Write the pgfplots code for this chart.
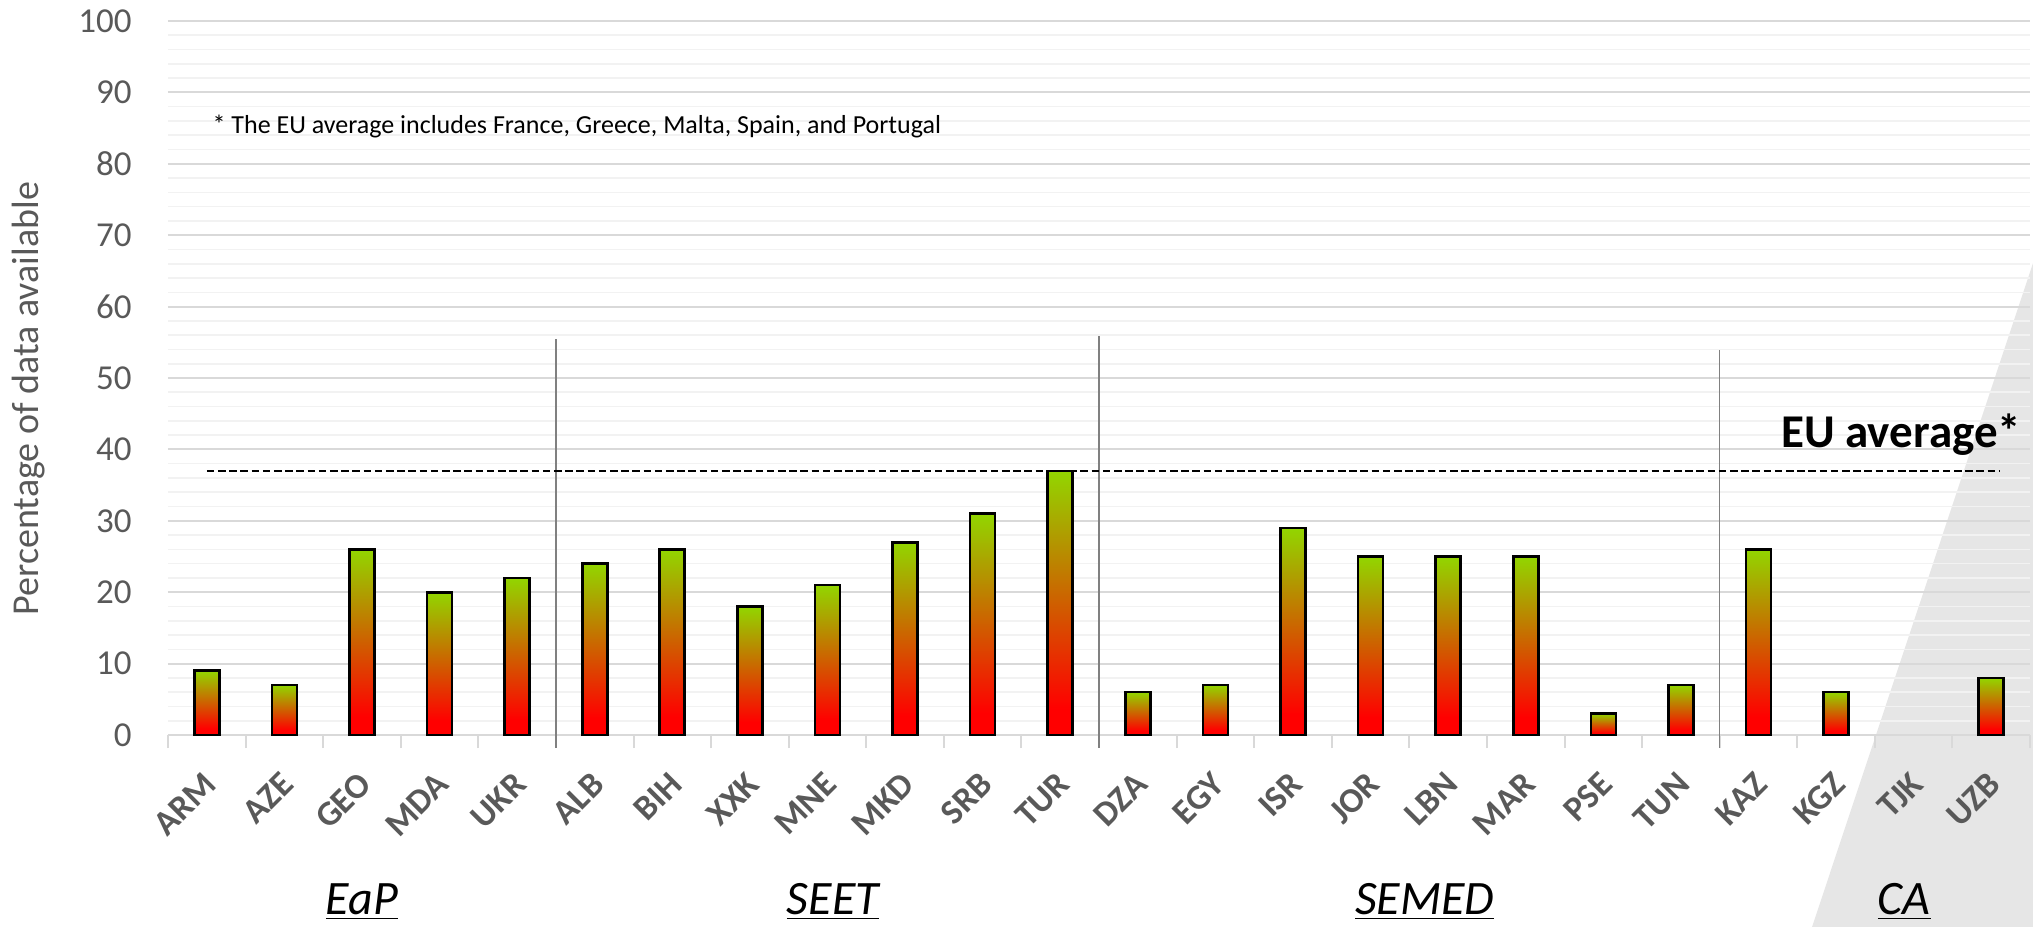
\documentclass[border=0pt]{standalone}
\usepackage{pgfplots}
\pgfplotsset{compat=1.18}
\usepackage{fontspec}
\setmainfont{Carlito}
\definecolor{txtgray}{HTML}{595959}
\definecolor{gridmaj}{HTML}{D9D9D9}
\definecolor{gridmin}{HTML}{F2F2F2}
\definecolor{bargreen}{RGB}{146,214,0}
\definecolor{barred}{RGB}{255,0,0}
\definecolor{caGray}{RGB}{230,230,230}
\definecolor{sepgray}{HTML}{808080}
% green at the top, pure red only near the foot of each bar
\pgfdeclareverticalshading{barshade}{100bp}{color(0bp)=(barred); color(30bp)=(barred); color(75bp)=(bargreen); color(100bp)=(bargreen)}
\pgfplotsset{availbar/.style={ybar, bar width=12.5pt, bar shift=0pt, draw=black, line width=1.3pt, shading=barshade}}

\begin{document}
\begin{tikzpicture}
\useasboundingbox (-84pt,-95.5pt) rectangle (932.5pt,367.5pt);
% shaded CA corner
\fill[caGray] (822pt,-96pt) -- (933pt,237.5pt) -- (933pt,-96pt) -- cycle;
\begin{axis}[
  at={(0,0)}, anchor=south west,
  scale only axis, width=931pt, height=357pt,
  xmin=-0.5, xmax=23.5, ymin=0, ymax=100,
  clip=false,
  axis x line*=bottom, axis y line*=left,
  x axis line style={draw=gridmaj, line width=1pt},
  y axis line style={draw=none},
  xtick={0,...,23},
  xticklabels={ARM,AZE,GEO,MDA,UKR,ALB,BIH,XXK,MNE,MKD,SRB,TUR,DZA,EGY,ISR,JOR,LBN,MAR,PSE,TUN,KAZ,KGZ,TJK,UZB},
  minor xtick={-0.5,0.5,...,23.5},
  major x tick style={draw=none},
  minor x tick style={draw=gridmaj, line width=1pt},
  minor tick length=6.5pt,
  major tick length=0pt,
  tick align=outside,
  ytick={0,10,...,100},
  minor ytick={2,4,...,98},
  major y tick style={draw=none},
  minor y tick style={draw=none},
  ymajorgrids, yminorgrids,
  major grid style={draw=gridmaj, line width=1pt},
  minor grid style={draw=gridmin, line width=0.8pt},
  /pgf/number format/assume math mode=true,
  yticklabel style={font=\fontsize{17.5}{20}\selectfont, text=txtgray, inner sep=0pt, xshift=-18pt},
  xticklabel style={font=\fontsize{17.5}{20}\selectfont\bfseries, text=txtgray, inner sep=0pt, xshift=1.8pt, yshift=-21.7pt, rotate=45, anchor=east},
]
% one plot per bar so that each bar gets its own gradient (TJK has no value)
\addplot[availbar] coordinates {(0,9)};
\addplot[availbar] coordinates {(1,7)};
\addplot[availbar] coordinates {(2,26)};
\addplot[availbar] coordinates {(3,20)};
\addplot[availbar] coordinates {(4,22)};
\addplot[availbar] coordinates {(5,24)};
\addplot[availbar] coordinates {(6,26)};
\addplot[availbar] coordinates {(7,18)};
\addplot[availbar] coordinates {(8,21)};
\addplot[availbar] coordinates {(9,27)};
\addplot[availbar] coordinates {(10,31)};
\addplot[availbar] coordinates {(11,37)};
\addplot[availbar] coordinates {(12,6)};
\addplot[availbar] coordinates {(13,7)};
\addplot[availbar] coordinates {(14,29)};
\addplot[availbar] coordinates {(15,25)};
\addplot[availbar] coordinates {(16,25)};
\addplot[availbar] coordinates {(17,25)};
\addplot[availbar] coordinates {(18,3)};
\addplot[availbar] coordinates {(19,7)};
\addplot[availbar] coordinates {(20,26)};
\addplot[availbar] coordinates {(21,6)};
\addplot[availbar] coordinates {(23,8)};

% group separators
\addplot[sepgray, line width=0.8pt] coordinates {(4.5,-1.8) (4.5,55.5)};
\addplot[sepgray, line width=0.8pt] coordinates {(11.5,-1.8) (11.5,55.9)};
\addplot[sepgray, line width=0.8pt] coordinates {(19.5,-1.8) (19.5,53.9)};

% EU average
\addplot[black, line width=1pt, dash pattern=on 3.8pt off 1.8pt] coordinates {(0,37) (23.1,37)};
\node[anchor=base east, font=\fontsize{23.5}{27}\selectfont\bfseries, inner sep=0pt] at (axis cs:23.39,40.2) {EU average*};
\node[anchor=west, font=\fontsize{13}{16}\selectfont, inner sep=0pt] at (axis cs:0.07,85.2) {* The EU average includes France, Greece, Malta, Spain, and Portugal};

\node[rotate=90, font=\fontsize{19}{22}\selectfont, text=txtgray] at (axis cs:-2.3,47.1) {Percentage of data available};

% group names
\node[anchor=base, font=\fontsize{24}{28}\selectfont\itshape, inner sep=0pt] at (axis cs:2,-25.2) {\underline{EaP}};
\node[anchor=base, font=\fontsize{24}{28}\selectfont\itshape, inner sep=0pt] at (axis cs:8.07,-25.2) {\underline{SEET}};
\node[anchor=base, font=\fontsize{24}{28}\selectfont\itshape, inner sep=0pt] at (axis cs:15.7,-25.2) {\underline{SEMED}};
\node[anchor=base, font=\fontsize{24}{28}\selectfont\itshape, inner sep=0pt] at (axis cs:21.88,-25.2) {\underline{CA}};
\end{axis}
\end{tikzpicture}
\end{document}
